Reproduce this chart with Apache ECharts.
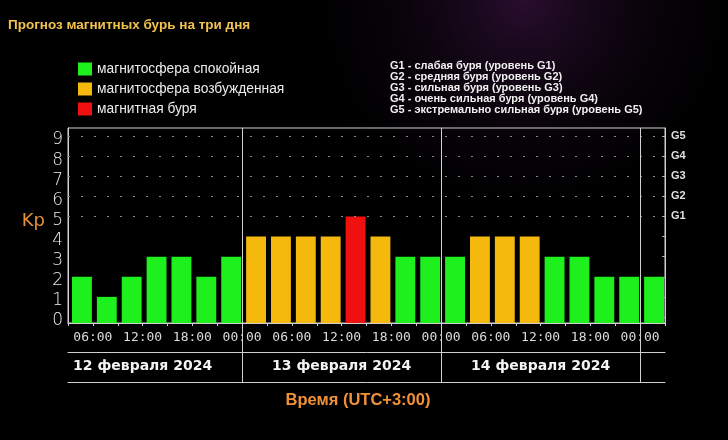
<!DOCTYPE html>
<html><head><meta charset="utf-8">
<script src="https://cdn.jsdelivr.net/npm/echarts@6/dist/echarts.min.js"></script>
<style>html,body{margin:0;padding:0;background:#000}#c{width:728px;height:440px}</style>
</head><body><div id="c"></div>
<script>
// ---- data ----
const slotStart = [3,6,9,12,15,18,21, 24,27,30,33,36,39,42,45, 48,51,54,57,60,63,66,69, 72]; // hours from 12 Feb 00:00 (UTC+3)
const kp = [2,1,2,3,3,2,3, 4,4,4,4,5,4,3,3, 3,4,4,4,3,3,2,2, 2];
const slotHours = 3;
const kpTicks = [0,1,2,3,4,5,6,7,8,9];
const gLevels = [5,6,7,8,9];
const gLabels = ['G1','G2','G3','G4','G5'];
const dayNoon = [12,36,60];
const dayBounds = [24,48,72];
const dayLabels = ['12 февраля 2024','13 февраля 2024','14 февраля 2024'];
const legendNames = ['магнитосфера спокойная','магнитосфера возбужденная','магнитная буря'];
const legendColors = ['#1ef01e','#f5b80c','#f01010'];
const gLegend = ['G1 - слабая буря (уровень G1)','G2 - средняя буря (уровень G2)','G3 - сильная буря (уровень G3)','G4 - очень сильная буря (уровень G4)','G5 - экстремально сильная буря (уровень G5)'];
const xMin = 3, xMax = 75, yMin = -0.3, yMax = 9.4;

function colorFor(v){ return v >= 5 ? legendColors[2] : (v >= 4 ? legendColors[1] : legendColors[0]); }
function pad(n){ return (n<10?'0':'')+n; }

const chart = echarts.init(document.getElementById('c'), null, {renderer:'canvas'});
const gridL = 68, gridR = 63;
const option = {
  backgroundColor: '#000',
  animation: false,
  graphic: [{
    type:'rect', silent:true, z:-10, shape:{x:0,y:0,width:728,height:440},
    style:{fill:{type:'radial', x:0.72, y:0.0, r:0.55, colorStops:[{offset:0,color:'rgba(75,25,85,0.55)'},{offset:1,color:'rgba(0,0,0,0)'}]}}
  }],
  title: [
    {text:'Прогноз магнитных бурь на три дня', left:3, top:13, textStyle:{color:'#f2c24e', fontFamily:'Liberation Sans', fontWeight:'bold', fontSize:13.5}},
    {text:gLegend.join('\n'), left:385, top:56, textStyle:{color:'#f0f0f0', fontFamily:'Liberation Sans', fontWeight:'bold', fontSize:11, lineHeight:10.8}},
    {text:'Время (UTC+3:00)', left:353, top:387, textAlign:'center', textStyle:{color:'#f0913a', fontFamily:'Liberation Sans', fontWeight:'bold', fontSize:16.5}}
  ],
  legend: {
    orient:'vertical', left:73, top:57, itemWidth:14, itemHeight:13, itemGap:6, icon:'rect',
    data: legendNames,
    textStyle:{color:'#ececec', fontFamily:'Liberation Sans', fontSize:13.8, lineHeight:13},
    selectedMode:false
  },
  grid: [
    {left:gridL, right:gridR, top:128, bottom:117, show:true, borderColor:'#d0d0d0', borderWidth:1},
    {left:gridL, right:gridR, top:128, bottom:58},
    {left:gridL, right:gridR, top:352, bottom:58}
  ],
  xAxis: [
    {gridIndex:0, type:'value', min:xMin, max:xMax, interval:slotHours,
     axisLine:{show:true, onZero:false, lineStyle:{color:'#d0d0d0'}},
     axisTick:{show:true, length:3, lineStyle:{color:'#d0d0d0'}},
     splitLine:{show:false},
     axisLabel:{color:'#dcdcdc', fontFamily:'DejaVu Sans Mono', fontSize:13, margin:8,
       formatter:v => (v % 6 === 0) ? pad(v % 24)+':00' : ''}},
    {gridIndex:1, type:'value', min:xMin, max:xMax, position:'bottom',
     axisLine:{show:true, onZero:false, lineStyle:{color:'#d0d0d0'}},
     axisTick:{show:false}, axisLabel:{show:false}, splitLine:{show:false}},
    {gridIndex:2, type:'value', min:xMin, max:xMax, position:'top',
     axisLine:{show:true, onZero:false, lineStyle:{color:'#d0d0d0'}},
     axisTick:{show:false}, splitLine:{show:false},
     axisLabel:{show:true, inside:true, customValues:dayNoon, margin:14, verticalAlign:'middle',
       color:'#f4f4f4', fontFamily:'DejaVu Sans', fontWeight:'bold', fontSize:14,
       formatter:v => dayLabels[dayNoon.indexOf(v)] || ''}}
  ],
  yAxis: [
    {gridIndex:0, type:'value', min:yMin, max:yMax, position:'left',
     name:'Kp', nameLocation:'middle', nameRotate:0, nameGap:23,
     nameTextStyle:{color:'#e8903a', fontSize:18, fontFamily:'DejaVu Sans', verticalAlign:'bottom', lineHeight:8},
     axisLine:{show:true, onZero:false, lineStyle:{color:'#d0d0d0'}},
     axisTick:{show:false}, splitLine:{show:false},
     axisLabel:{customValues:kpTicks, color:'#ececec', fontFamily:'DejaVu Sans', fontWeight:200, fontSize:17, margin:5, verticalAlign:'top', lineHeight:8}},
    {gridIndex:0, type:'value', min:yMin, max:yMax, position:'right',
     axisLine:{show:true, onZero:false, lineStyle:{color:'#d0d0d0'}},
     axisTick:{show:true, inside:true, length:3, customValues:kpTicks, lineStyle:{color:'#aaa'}},
     splitLine:{show:false},
     axisLabel:{customValues:gLevels, color:'#e0e0e0', fontFamily:'Liberation Sans', fontWeight:'bold', fontSize:11, margin:6,
       formatter:v => gLabels[gLevels.indexOf(v)] || ''}},
    {gridIndex:1, type:'value', min:0, max:1, show:false},
    {gridIndex:2, type:'value', min:0, max:1, show:false}
  ],
  series: [
    {type:'custom', name:'kp', xAxisIndex:0, yAxisIndex:0,
     data: slotStart.map((s,i)=>[s, kp[i]]),
     encode:{x:0, y:1},
     renderItem:function(params, api){
       const s = api.value(0), v = api.value(1);
       const tl = api.coord([s, v]);
       const br = api.coord([s + slotHours, yMin]);
       const x0 = tl[0] + 4, x1 = br[0] - 1;
       return {type:'rect', shape:{x:x0, y:tl[1], width:x1-x0, height:br[1]-tl[1]}, style:{fill:colorFor(v)}};
     },
     markLine:{silent:true, symbol:'none', label:{show:false},
       lineStyle:{type:[2,11], color:'#8a8a8a', width:1},
       data: gLevels.map(v=>({yAxis:v}))},
     z:3},
    {type:'scatter', xAxisIndex:1, yAxisIndex:2, symbolSize:0, silent:true,
     data: dayBounds.map(b=>[b,0]),
     markLine:{silent:true, symbol:'none', label:{show:false},
       lineStyle:{type:'solid', color:'#d0d0d0', width:1},
       data: dayBounds.map(b=>({xAxis:b}))},
     z:5},
    ...legendNames.map((n,i)=>({type:'bar', name:n, xAxisIndex:0, yAxisIndex:0, data:[], itemStyle:{color:legendColors[i]}}))
  ]
};
chart.setOption(option);
</script></body></html>
